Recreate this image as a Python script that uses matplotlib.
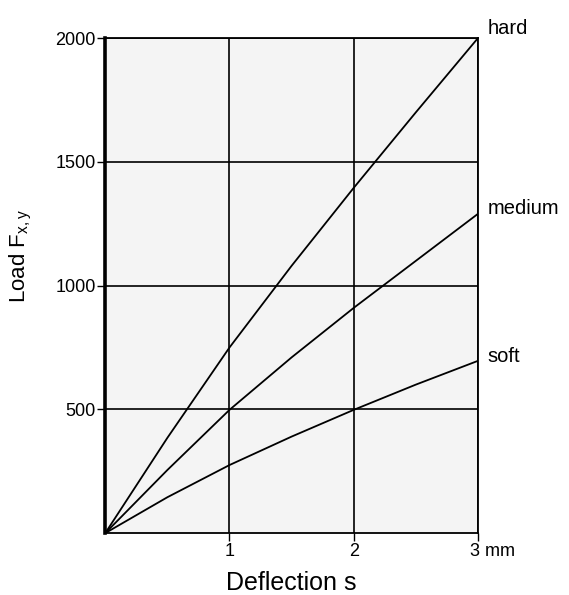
import matplotlib
matplotlib.use('Agg')
import matplotlib.pyplot as plt
import matplotlib.transforms as mtransforms

plt.rcParams['font.family'] = ['Liberation Sans', 'DejaVu Sans']

# deflection (mm) and load readings per spring rate
deflection = [0, 0.5, 1, 1.5, 2, 2.5, 3]
load_hard = [0, 385, 750, 1080, 1395, 1700, 2000]
load_medium = [0, 255, 498, 710, 910, 1100, 1290]
load_soft = [0, 145, 275, 390, 498, 600, 696]
curve_names = ['hard', 'medium', 'soft']

x_ticks = [1, 2, 3]
x_ticklabels = ['1', '2', '3 mm']
y_ticks = [500, 1000, 1500, 2000]

fig = plt.figure(figsize=(5.69, 5.95), dpi=100)
ax = fig.add_axes([0.185, 0.104, 0.655, 0.832])
ax.set_facecolor('#f4f4f4')

label_dy = [7, 3.5, 3]  # label nudge in points
for ys, name, dy in zip([load_hard, load_medium, load_soft], curve_names, label_dy):
    ax.plot(deflection, ys, color='black', lw=1.3)
    ax.annotate(name, (deflection[-1], ys[-1]), xytext=(7, dy),
                textcoords='offset points', fontsize=14.5, ha='left', va='center')

ax.set_xlim(0, 3)
ax.set_ylim(0, 2000)
ax.set_xticks(x_ticks)
ax.set_xticklabels(x_ticklabels, fontsize=13)
ax.set_yticks(y_ticks)
ax.set_yticklabels([str(v) for v in y_ticks], fontsize=13)
ax.tick_params(direction='out', length=6, width=1, pad=1)
ax.grid(True, color='black', lw=1.2)
for side, sp in ax.spines.items():
    sp.set_linewidth(1.3)
ax.spines['left'].set_linewidth(2.6)

# "3 mm" sits to the right of its tick
last = ax.get_xticklabels()[-1]
last.set_horizontalalignment('left')
last.set_transform(last.get_transform() +
                   mtransforms.ScaledTranslation(-8 / 100, 0, fig.dpi_scale_trans))

ax.set_xlabel('Deflection s', fontsize=18, labelpad=8)
ax.set_ylabel(r'Load F$_\mathregular{x,y}$', fontsize=16)
ax.yaxis.set_label_coords(-0.19, 0.56)

fig.savefig('out.png', dpi=100, facecolor='white')
